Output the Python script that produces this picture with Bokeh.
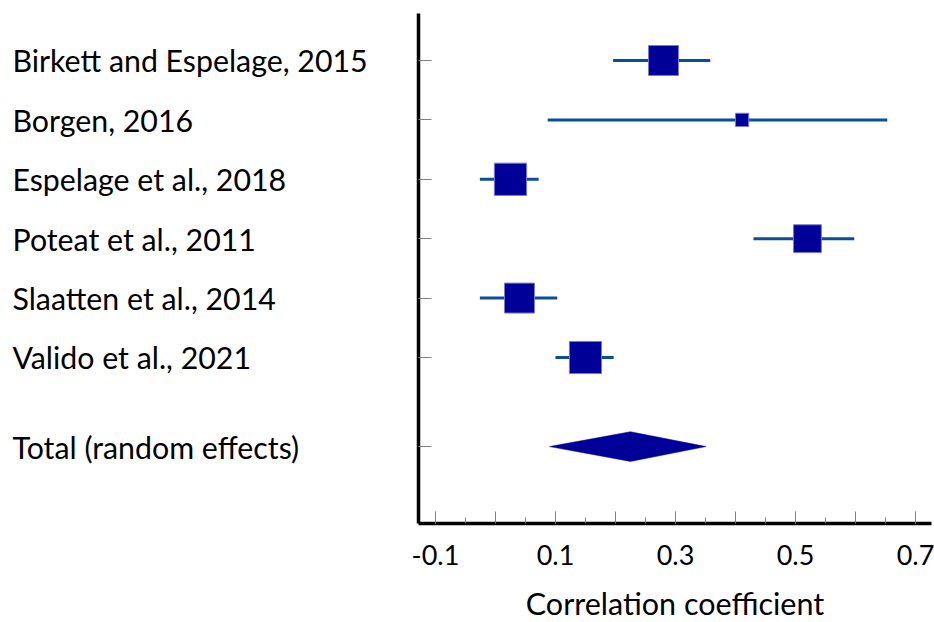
from bokeh.plotting import figure
from bokeh.layouts import row
from bokeh.models import Range1d, FixedTicker, ColumnDataSource
from bokeh.core.properties import value
from bokeh.embed import file_html
from bokeh.resources import INLINE

# ---- data ----
studies = ["Birkett and Espelage, 2015", "Borgen, 2016", "Espelage et al., 2018",
           "Poteat et al., 2011", "Slaatten et al., 2014", "Valido et al., 2021"]
estimate = [0.280, 0.411, 0.025, 0.520, 0.040, 0.150]
ci_low = [0.196, 0.087, -0.026, 0.430, -0.026, 0.100]
ci_high = [0.358, 0.653, 0.072, 0.598, 0.103, 0.197]
weight_pct = [18.1, 8.0, 19.5, 16.8, 18.1, 19.4]

total_label = "Total (random effects)"
total_est = 0.225
total_low = 0.090
total_high = 0.351

x_labeled_ticks = [-0.1, 0.1, 0.3, 0.5, 0.7]
x_tick_labels = ["-0.1", "0.1", "0.3", "0.5", "0.7"]
x_unlabeled_ticks = [0.0, 0.2, 0.4, 0.6]
x_minor_ticks = [-0.1, -0.05, 0.0, 0.05, 0.1, 0.15, 0.2, 0.25, 0.3, 0.35,
                 0.4, 0.45, 0.5, 0.55, 0.6, 0.65, 0.7]
x_title = "Correlation coefficient"

# ---- layout constants ----
FONT = "Lato"
FRAME_H = 510
FRAME_W = 513
n = len(studies)
ys = [i + 1 for i in range(n)]
y_total = n + 1.5
square_px_per_pct = 1.655
sizes = [w * square_px_per_pct for w in weight_pct]

y_range = Range1d(8.795, 0.209)
x_range = Range1d(-0.1283, 0.7267)
px_per_row = FRAME_H / (y_range.start - y_range.end)

TICK_GREY = "#7F7F7F"

# ---- main plot ----
p = figure(frame_width=FRAME_W, frame_height=FRAME_H, x_range=x_range, y_range=y_range,
           min_border_left=10, min_border_right=3, min_border_top=13, min_border_bottom=0,
           toolbar_location=None, output_backend="svg")
p.outline_line_color = None
p.grid.grid_line_color = None

# long unlabeled x ticks (inside, from the bottom axis)
p.segment(x0=x_unlabeled_ticks, x1=x_unlabeled_ticks,
          y0=[y_range.start] * len(x_unlabeled_ticks),
          y1=[y_range.start - 12 / px_per_row] * len(x_unlabeled_ticks),
          line_color=TICK_GREY, line_width=1)

src = ColumnDataSource(dict(y=ys, est=estimate, lo=ci_low, hi=ci_high, size=sizes))
p.segment(x0="lo", x1="hi", y0="y", y1="y", source=src,
          line_color="#0A4D9B", line_width=3)
p.scatter(x="est", y="y", size="size", marker="square", source=src,
          fill_color="#000099", line_color="#7A7ACC", line_width=1)

half_h = 0.25
p.patch(x=[total_low, total_est, total_high, total_est],
        y=[y_total, y_total - half_h, y_total, y_total + half_h],
        fill_color="#000099", line_color="#000099", line_width=0.5)

# x axis
xa = p.xaxis[0]
xa.ticker = FixedTicker(ticks=x_labeled_ticks, minor_ticks=x_minor_ticks)
xa.major_label_overrides = dict(zip(x_labeled_ticks, x_tick_labels))
xa.axis_line_width = 3.5
xa.axis_line_color = "black"
xa.major_tick_in = 12
xa.major_tick_out = 0
xa.minor_tick_in = 6
xa.minor_tick_out = 0
xa.major_tick_line_color = TICK_GREY
xa.minor_tick_line_color = TICK_GREY
xa.major_tick_line_width = 1
xa.minor_tick_line_width = 1
xa.major_label_text_font = FONT
xa.major_label_text_font_size = "27px"
xa.major_label_text_color = "black"
xa.major_label_standoff = 21
xa.axis_label = x_title
xa.axis_label_text_font = FONT
xa.axis_label_text_font_size = "30.5px"
xa.axis_label_text_font_style = "normal"
xa.axis_label_text_color = "black"
xa.axis_label_standoff = 17

# y axis (ticks only, no labels)
ya = p.yaxis[0]
ya.ticker = FixedTicker(ticks=ys + [y_total], minor_ticks=[])
ya.axis_line_width = 3.5
ya.axis_line_color = "black"
ya.major_tick_in = 13
ya.major_tick_out = 0
ya.major_tick_line_color = TICK_GREY
ya.major_tick_line_width = 1
ya.minor_tick_line_color = None
ya.major_label_text_color = None
ya.major_label_standoff = 0

# ---- label column ----
lab = figure(frame_width=408, frame_height=FRAME_H, x_range=Range1d(0, 1), y_range=y_range,
             min_border_left=0, min_border_right=0, min_border_top=13, min_border_bottom=0,
             toolbar_location=None, output_backend="svg",
             x_axis_location=None, y_axis_location=None)
lab.outline_line_color = None
lab.grid.grid_line_color = None
lab.text(x=[0] * (n + 1), y=ys + [y_total], text=studies + [total_label],
         x_offset=12, text_align="left", text_baseline="middle",
         text_font=value(FONT), text_font_size="30.3px", text_color="black")

layout = row(lab, p)
open("out.html", "w").write(file_html(layout, INLINE))
